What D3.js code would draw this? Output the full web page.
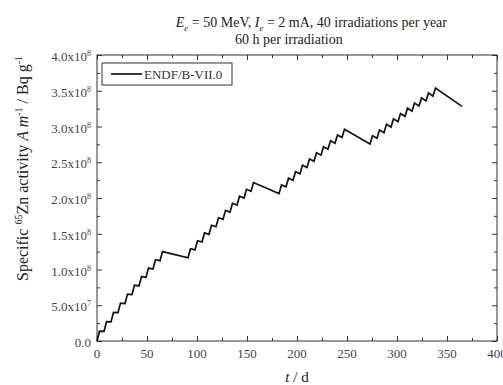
<!DOCTYPE html>
<html>
<head>
<meta charset="utf-8">
<script src="https://cdn.jsdelivr.net/npm/d3@7"></script>
<style>
  html, body { margin: 0; padding: 0; background: #fff; }
  svg { display: block; font-family: "Liberation Serif", "Times New Roman", serif; }
</style>
</head>
<body>
<svg id="chart" width="503" height="385"></svg>
<script>
// ---- data ----
// time in days
const days = [
  0, 2.5, 7, 9.5, 14, 16.5, 21, 23.5, 28, 30.5, 35, 37.5, 42, 44.5, 49, 51.5, 56, 58.5, 63, 65.5,
  91, 93.5, 98, 100.5, 105, 107.5, 112, 114.5, 119, 121.5, 126, 128.5, 133, 135.5, 140, 142.5, 147, 149.5, 154, 156.5,
  182, 184.5, 189, 191.5, 196, 198.5, 203, 205.5, 210, 212.5, 217, 219.5, 224, 226.5, 231, 233.5, 238, 240.5, 245, 247.5,
  273, 275.5, 280, 282.5, 287, 289.5, 294, 296.5, 301, 303.5, 308, 310.5, 315, 317.5, 322, 324.5, 329, 331.5, 336, 338.5,
  365
];
// specific activity, in units of 10^6 Bq/g
const activity = [
  0, 13.65, 13.48, 27.03, 26.69, 40.15, 39.64, 53.01, 52.34, 65.62, 64.79, 77.98, 76.99, 90.10, 88.96, 101.98, 100.68, 113.62, 112.18, 125.04,
  116.30, 129.13, 127.49, 140.24, 138.46, 151.13, 149.21, 161.81, 159.76, 172.28, 170.09, 182.54, 180.22, 192.60, 190.15, 202.46, 199.89, 212.13, 209.44, 221.61,
  206.13, 218.32, 215.55, 227.68, 224.79, 236.85, 233.84, 245.84, 242.72, 254.65, 251.42, 263.29, 259.95, 271.76, 268.31, 280.06, 276.50, 288.20, 284.54, 296.18,
  275.49, 287.19, 283.54, 295.19, 291.44, 303.03, 299.18, 310.72, 306.77, 318.25, 314.21, 325.64, 321.50, 332.88, 328.65, 339.98, 335.66, 346.94, 342.53, 353.76,
  328.11
];
const seriesName = "ENDF/B-VII.0";

const xTicks = [0, 50, 100, 150, 200, 250, 300, 350, 400];
const xMinorTicks = [25, 75, 125, 175, 225, 275, 325, 375];
const yTicks = [0, 50, 100, 150, 200, 250, 300, 350, 400];
const yMinorTicks = [25, 75, 125, 175, 225, 275, 325, 375];
const yTickMantissa = ["0.0", "5.0x10", "1.0x10", "1.5x10", "2.0x10", "2.5x10", "3.0x10", "3.5x10", "4.0x10"];
const yTickExponent = ["", "7", "8", "8", "8", "8", "8", "8", "8"];

// ---- layout ----
const svg = d3.select("#chart");
const L = 97, R = 497, T = 55, B = 341;
const x = d3.scaleLinear().domain([0, 400]).range([L, R]);
const y = d3.scaleLinear().domain([0, 400]).range([B, T]);
const axisColor = "#333";
const labelColor = "#444";

// axes ticks (inward, mirrored)
function styleAxis(g) {
  g.select(".domain").remove();
  g.selectAll("line").attr("stroke", axisColor).attr("stroke-width", 1);
}
svg.append("g").attr("transform", `translate(0,${B})`)
  .call(d3.axisBottom(x).tickValues(xTicks).tickSize(-5).tickSizeOuter(0).tickFormat("")).call(styleAxis);
svg.append("g").attr("transform", `translate(0,${B})`)
  .call(d3.axisBottom(x).tickValues(xMinorTicks).tickSize(-3).tickSizeOuter(0).tickFormat("")).call(styleAxis);
svg.append("g").attr("transform", `translate(0,${T})`)
  .call(d3.axisTop(x).tickValues(xTicks).tickSize(-5).tickSizeOuter(0).tickFormat("")).call(styleAxis);
svg.append("g").attr("transform", `translate(0,${T})`)
  .call(d3.axisTop(x).tickValues(xMinorTicks).tickSize(-3).tickSizeOuter(0).tickFormat("")).call(styleAxis);
svg.append("g").attr("transform", `translate(${L},0)`)
  .call(d3.axisLeft(y).tickValues(yTicks).tickSize(-5).tickSizeOuter(0).tickFormat("")).call(styleAxis);
svg.append("g").attr("transform", `translate(${L},0)`)
  .call(d3.axisLeft(y).tickValues(yMinorTicks).tickSize(-3).tickSizeOuter(0).tickFormat("")).call(styleAxis);
svg.append("g").attr("transform", `translate(${R},0)`)
  .call(d3.axisRight(y).tickValues(yTicks).tickSize(-5).tickSizeOuter(0).tickFormat("")).call(styleAxis);
svg.append("g").attr("transform", `translate(${R},0)`)
  .call(d3.axisRight(y).tickValues(yMinorTicks).tickSize(-3).tickSizeOuter(0).tickFormat("")).call(styleAxis);

// frame
svg.append("rect").attr("x", L).attr("y", T).attr("width", R - L).attr("height", B - T)
  .attr("fill", "none").attr("stroke", axisColor).attr("stroke-width", 1);

// x tick labels
svg.append("g").selectAll("text").data(xTicks).join("text")
  .attr("x", d => x(d)).attr("y", B + 17)
  .attr("text-anchor", "middle").attr("font-size", 13).attr("fill", labelColor)
  .text(d => d);

// y tick labels
const yl = svg.append("g").selectAll("text").data(yTicks).join("text")
  .attr("x", L - 6).attr("y", d => y(d) + 6)
  .attr("text-anchor", "end").attr("font-size", 13).attr("fill", labelColor);
yl.append("tspan").text((d, i) => yTickMantissa[i]);
yl.filter((d, i) => yTickExponent[i] !== "").append("tspan")
  .attr("font-size", 8).attr("dy", -5).text(d => yTickExponent[yTicks.indexOf(d)]);

// data line
const line = d3.line().x(d => x(d[0])).y(d => y(d[1]));
svg.append("path").datum(days.map((d, i) => [d, activity[i]]))
  .attr("d", line).attr("fill", "none").attr("stroke", "#111")
  .attr("stroke-width", 1.7).attr("stroke-linejoin", "miter");

// legend
svg.append("rect").attr("x", 102).attr("y", 63).attr("width", 130).attr("height", 22)
  .attr("fill", "#fff").attr("stroke", axisColor).attr("stroke-width", 1);
svg.append("line").attr("x1", 111).attr("x2", 142).attr("y1", 74).attr("y2", 74)
  .attr("stroke", "#111").attr("stroke-width", 1.7);
svg.append("text").attr("x", 144).attr("y", 78.5).attr("font-size", 13).attr("fill", "#333")
  .text(seriesName);

// title
const t1 = svg.append("text").attr("x", 447).attr("y", 27).attr("text-anchor", "end")
  .attr("font-size", 14).attr("fill", "#222");
t1.append("tspan").attr("font-style", "italic").text("E");
t1.append("tspan").attr("font-style", "italic").attr("font-size", 9).attr("dy", 4).text("e");
t1.append("tspan").attr("dy", -4).text(" = 50 MeV, ");
t1.append("tspan").attr("font-style", "italic").text("I");
t1.append("tspan").attr("font-style", "italic").attr("font-size", 9).attr("dy", 4).text("e");
t1.append("tspan").attr("dy", -4).text(" = 2 mA, 40 irradiations per year");
svg.append("text").attr("x", 235).attr("y", 44).attr("font-size", 14).attr("fill", "#222")
  .text("60 h per irradiation");

// x axis label
const xt = svg.append("text").attr("x", 297).attr("y", 382).attr("text-anchor", "middle")
  .attr("font-size", 15).attr("fill", "#222");
xt.append("tspan").attr("font-style", "italic").text("t");
xt.append("tspan").text(" / d");

// y axis label
const ytl = svg.append("text").attr("transform", "translate(28,168.5) rotate(-90)")
  .attr("text-anchor", "middle").attr("font-size", 16).attr("fill", "#222");
ytl.append("tspan").text("Specific ");
ytl.append("tspan").attr("font-size", 10).attr("dy", -6).text("65");
ytl.append("tspan").attr("dy", 6).text("Zn activity ");
ytl.append("tspan").attr("font-style", "italic").text("A m");
ytl.append("tspan").attr("font-size", 10).attr("dy", -6).text("-1");
ytl.append("tspan").attr("dy", 6).text(" / Bq g");
ytl.append("tspan").attr("font-size", 10).attr("dy", -6).text("-1");
</script>
</body>
</html>
